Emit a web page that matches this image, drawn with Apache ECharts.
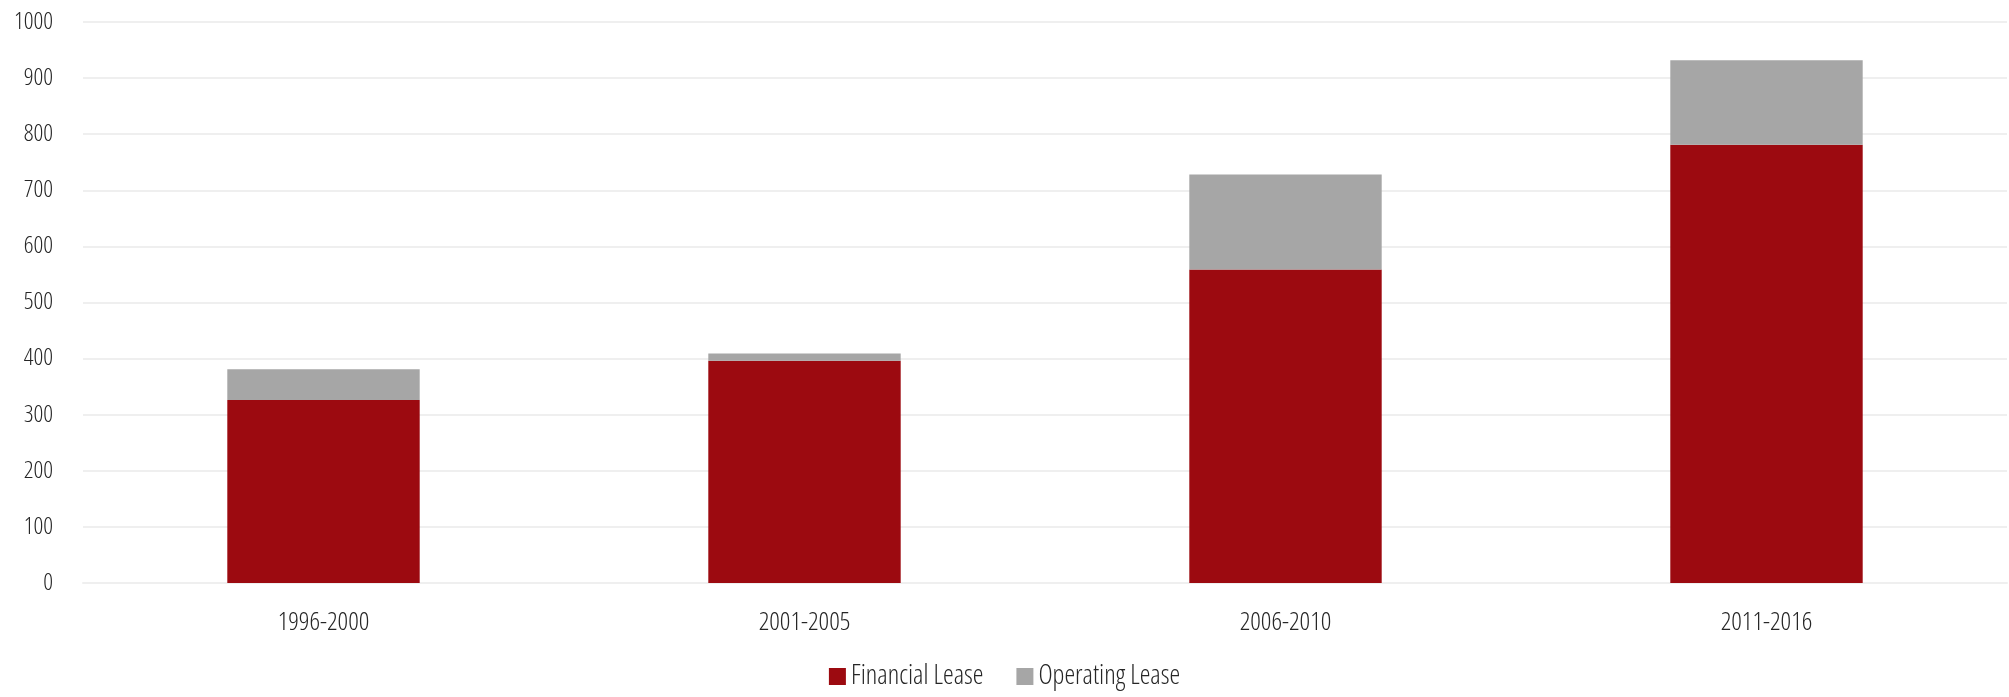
<!DOCTYPE html>
<html><head><meta charset="utf-8">
<script src="https://cdn.jsdelivr.net/npm/echarts@6/dist/echarts.min.js"></script>
<style>html,body{margin:0;padding:0;background:#fff}#c{width:2009px;height:697px}</style>
</head><body><div id="c"></div>
<script>
const categories = ['1996-2000', '2001-2005', '2006-2010', '2011-2016'];
const financialLease = [326, 396, 559, 781];
const operatingLease = [55, 13, 169, 151];
const yTicks = [0, 100, 200, 300, 400, 500, 600, 700, 800, 900, 1000];

const FONT = '"Open Sans", sans-serif';
const W = '300 condensed';
const TXT = '#262626';
const chart = echarts.init(document.getElementById('c'), null, {renderer: 'canvas'});
chart.setOption({
  animation: false,
  backgroundColor: '#ffffff',
  textStyle: {fontFamily: FONT, fontWeight: W},
  grid: {left: 83, right: 2, top: 22, bottom: 114, containLabel: false},
  legend: {
    top: 658, left: 'center', padding: 5, itemWidth: 17, itemHeight: 17, itemGap: 33,
    icon: 'rect',
    textStyle: {fontFamily: FONT, fontWeight: W, fontSize: 27, color: TXT},
    data: ['Financial Lease', 'Operating Lease']
  },
  xAxis: {
    type: 'category', data: categories,
    axisLine: {show: true, lineStyle: {color: '#EFEFEF', width: 2}},
    axisTick: {show: false},
    axisLabel: {fontFamily: FONT, fontWeight: W, fontSize: 26, color: TXT, margin: 27}
  },
  yAxis: {
    type: 'value', min: yTicks[0], max: yTicks[yTicks.length - 1], interval: 100,
    axisLine: {show: false}, axisTick: {show: false},
    splitLine: {lineStyle: {color: '#EFEFEF', width: 2}},
    axisLabel: {fontFamily: FONT, fontWeight: W, fontSize: 24, color: TXT, margin: 30,
      formatter: v => String(v)}
  },
  series: [
    {name: 'Financial Lease', type: 'bar', stack: 'a', data: financialLease, barWidth: '40%',
     itemStyle: {color: '#9C0A10'}},
    {name: 'Operating Lease', type: 'bar', stack: 'a', data: operatingLease, barWidth: '40%',
     itemStyle: {color: '#A6A6A6'}}
  ]
});
</script></body></html>
